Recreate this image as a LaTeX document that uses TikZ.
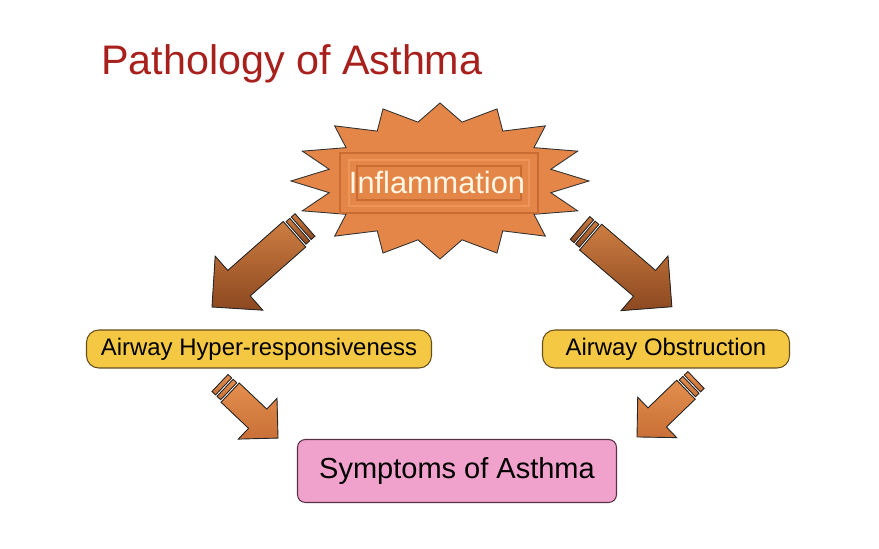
\documentclass[tikz,border=0pt]{standalone}
\usepackage{fontspec}
\setmainfont{Liberation Sans}
\usetikzlibrary{calc}

\definecolor{titlered}{RGB}{168,32,28}
\definecolor{burstfill}{RGB}{228,134,72}
\definecolor{burstdark}{RGB}{200,108,52}
\definecolor{burstlight}{RGB}{238,150,90}
\definecolor{creamtext}{RGB}{255,246,228}
\definecolor{arrowlight}{RGB}{205,125,65}
\definecolor{arrowdark}{RGB}{140,72,32}
\definecolor{arroworange}{RGB}{228,142,78}
\definecolor{arrowmid}{RGB}{200,112,55}
\definecolor{boxyellow}{RGB}{245,200,68}
\definecolor{boxyellowline}{RGB}{100,80,30}
\definecolor{boxpink}{RGB}{240,162,204}
\definecolor{boxpinkline}{RGB}{90,50,70}

\tikzset{
  burst/.style={draw=black!80,line width=0.5pt,fill=burstfill},
  bigarrow/.style={draw=black!85,line width=0.5pt,top color=arrowlight,bottom color=arrowdark},
  smallarrow/.style={draw=black!85,line width=0.5pt,top color=arroworange,bottom color=arrowmid},
  yellowbox/.style={draw=boxyellowline,line width=0.6pt,fill=boxyellow,rounded corners=7pt,
    minimum height=0.76cm,font=\fontsize{13.6}{16}\selectfont},
  pinkbox/.style={draw=boxpinkline,line width=0.6pt,fill=boxpink,rounded corners=4.5pt,
    minimum height=1.26cm,font=\fontsize{16.5}{20}\selectfont}
}

% block arrow: tail, angle, length, width factor, style
\newcommand{\blockarrow}[5]{%
  \begin{scope}[shift={#1},rotate=#2]
    \filldraw[#5] (0,{-0.3*#4}) rectangle (0.1,{0.3*#4});
    \filldraw[#5] (0.14,{-0.3*#4}) rectangle (0.24,{0.3*#4});
    \filldraw[#5] (0.28,{-0.34*#4}) -- ({#3-0.72*#4},{-0.34*#4})
      -- ({#3-0.72*#4},{-0.72*#4}) -- (#3,0) -- ({#3-0.72*#4},{0.72*#4})
      -- ({#3-0.72*#4},{0.34*#4}) -- (0.28,{0.34*#4}) -- cycle;
  \end{scope}}

\begin{document}
\begin{tikzpicture}
\useasboundingbox (0,0) rectangle (17.58,10.98);

\node[anchor=base west,text=titlered,font=\fontsize{23.5}{28}\selectfont,inner sep=0]
  (title) at (2.02,9.48) {Pathology of Asthma};

% the burst
\coordinate (c) at (8.8,7.36);
\draw[burst,shift={(c)}] (0:2.98 and 1.56)
  \foreach \k in {1,...,16}{ -- ({\k*22.5-11.25}:2.26 and 1.2) -- ({\k*22.5}:2.98 and 1.56)} -- cycle;
\draw[burstdark,line width=1.5pt] (6.8,6.72) rectangle (10.76,7.92);
\draw[burstlight,line width=1.2pt] (6.98,6.86) rectangle (10.58,7.78);
\draw[burstdark,line width=1pt] (7.14,6.98) rectangle (10.42,7.66);
\node[text=creamtext,font=\fontsize{17.5}{21}\selectfont] (inflam) at (8.74,7.32) {Inflammation};

% arrows
\coordinate (t1) at (6.10,6.48);
\coordinate (t2) at (11.6,6.42);
\coordinate (t3) at (4.4,3.32);
\coordinate (t4) at (13.92,3.38);
\blockarrow{(t1)}{-138.6}{2.48}{1}{bigarrow}
\blockarrow{(t2)}{-40.6}{2.42}{1}{bigarrow}
\blockarrow{(t3)}{-43.5}{1.6}{0.78}{smallarrow}
\blockarrow{(t4)}{-136}{1.64}{0.78}{smallarrow}

% boxes
\node[yellowbox,minimum width=6.9cm] (hyper) at (5.18,4.0) {Airway Hyper-responsiveness};
\node[yellowbox,minimum width=4.94cm] (obstr) at (13.32,4.0) {Airway Obstruction};
\node[pinkbox,minimum width=6.38cm] (symp) at (9.14,1.56) {Symptoms of Asthma};

\end{tikzpicture}
\end{document}
